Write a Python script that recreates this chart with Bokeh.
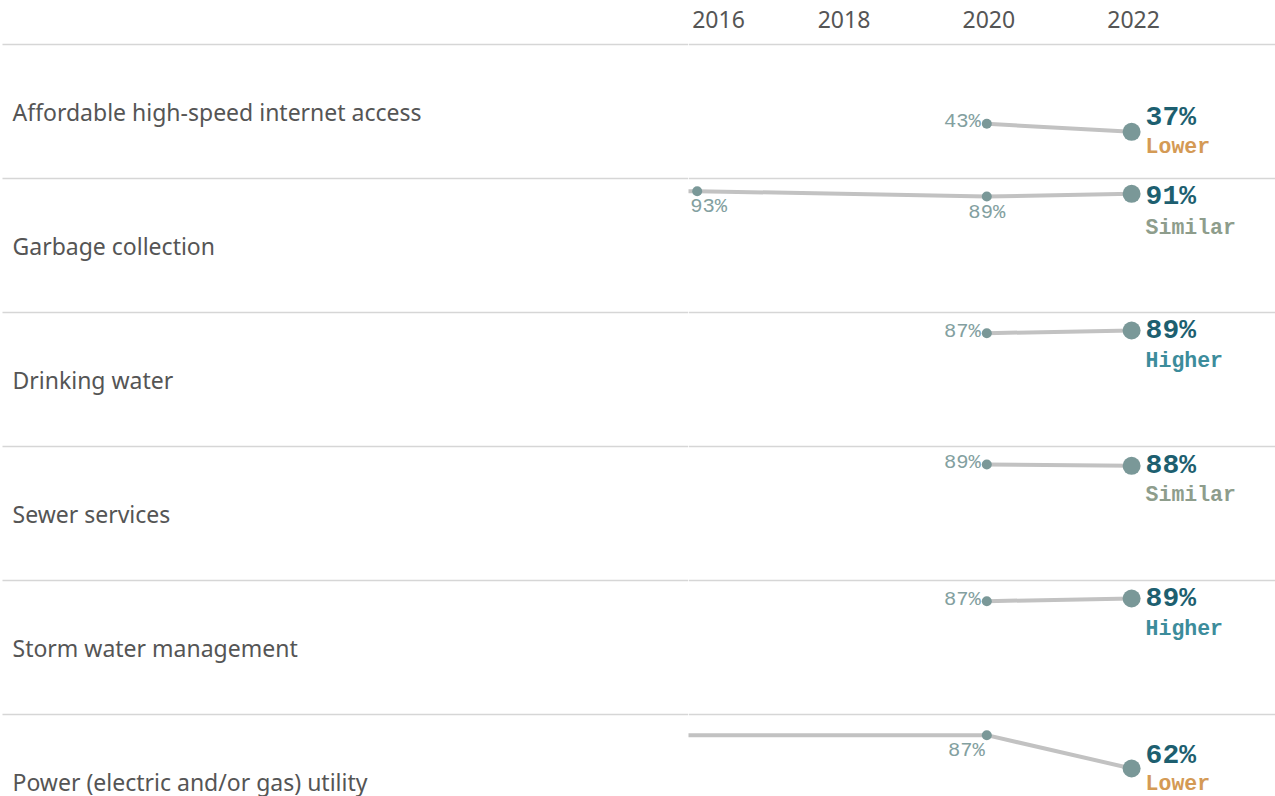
from bokeh.plotting import figure
from bokeh.layouts import row
from bokeh.models import Range1d, ColumnDataSource
from bokeh.core.properties import value
from bokeh.embed import file_html
from bokeh.resources import INLINE

# ---------------- data ----------------
categories = [
    "Affordable high-speed internet access",
    "Garbage collection",
    "Drinking water",
    "Sewer services",
    "Storm water management",
    "Power (electric and/or gas) utility",
]
year_ticks = [2016, 2018, 2020, 2022]

internet_years = [2020, 2022]
internet_values = [43, 37]
garbage_years = [2014, 2016, 2020, 2022]
garbage_values = [93, 93, 89, 91]
drinking_years = [2020, 2022]
drinking_values = [87, 89]
sewer_years = [2020, 2022]
sewer_values = [89, 88]
storm_years = [2020, 2022]
storm_values = [87, 89]
power_years = [2014, 2020, 2022]
power_values = [87, 87, 62]

status = ["Lower", "Similar", "Higher", "Similar", "Higher", "Lower"]

series_years = [internet_years, garbage_years, drinking_years,
                sewer_years, storm_years, power_years]
series_values = [internet_values, garbage_values, drinking_values,
                 sewer_values, storm_values, power_values]

# ---------------- styles ----------------
# label placement for each point (None = no label / off-chart, "end" = latest)
placements = [
    ["left", "end"],
    [None, "below_l", "below", "end"],
    ["left", "end"],
    ["left", "end"],
    ["left", "end"],
    [None, "below_r", "end"],
]
# vertical pixel offsets of (value label, status label) at the latest point
end_label_dy = [(-14, 15), (3, 34), (0, 30), (0, 29), (0, 30), (-13, 15)]

status_colors = {"Lower": "#D49A55", "Similar": "#8E9D8C", "Higher": "#3C8C9B"}
TEXT_GRAY = "#555555"
DIVIDER = "#D6D6D6"
LINE = "#C2C2C2"
DOT = "#7A9898"
SMALL_LBL = "#83A0A0"
BIG_LBL = "#1D5F70"
SANS = value("Noto Sans")
MONO = value("Liberation Mono")

W_LEFT, W_RIGHT, H = 688, 587, 796
ROW_TOP0, ROW_H = 44, 134          # canvas pixels
PX_PER_PT = 4.0 / 3.0
VAL_TOP = 102.5                    # value at the top of each row band
PX_PER_YEAR = 72.4
X_START = 2016 - 8.7 / PX_PER_YEAR


def base_fig(width, x_range):
    p = figure(width=width, height=H, x_range=x_range, y_range=Range1d(H, 0),
               output_backend="svg", toolbar_location=None, tools="")
    p.xaxis.visible = False
    p.yaxis.visible = False
    p.grid.visible = False
    p.outline_line_color = None
    p.min_border_left = p.min_border_right = 0
    p.min_border_top = p.min_border_bottom = 0
    p.background_fill_color = "white"
    p.border_fill_color = "white"
    return p


# ---------------- left: category labels ----------------
left = base_fig(W_LEFT, Range1d(0, W_LEFT))
row_tops = [ROW_TOP0 + ROW_H * i for i in range(len(categories))]
left.segment(x0=[2] * 6, x1=[W_LEFT] * 6, y0=row_tops, y1=row_tops,
             line_color=DIVIDER, line_width=1.5)
left.text(x=[12] * 6, y=[t + 67 for t in row_tops], text=categories,
          text_font=SANS, text_font_size="23px", text_color=TEXT_GRAY,
          text_align="left", text_baseline="middle")

# ---------------- right: slope lines ----------------
right = base_fig(W_RIGHT, Range1d(X_START, X_START + W_RIGHT / PX_PER_YEAR))
right.segment(x0=[X_START] * 6, x1=[X_START + 20] * 6, y0=row_tops, y1=row_tops,
              line_color=DIVIDER, line_width=1.5)

# header years
hdr = ColumnDataSource(dict(x=year_ticks, t=[str(y) for y in year_ticks],
                            off=[-5, 2, 2, 2],
                            align=["left", "center", "center", "center"]))
right.text(x="x", y=19, text="t", source=hdr, x_offset="off", text_align="align",
           text_font=SANS, text_font_size="23px", text_color=TEXT_GRAY,
           text_baseline="middle")

for i, (yrs, vals) in enumerate(zip(series_years, series_values)):
    top_val = VAL_TOP + (ROW_TOP0 + ROW_H * i) / PX_PER_PT
    name = f"row{i}"
    right.extra_y_ranges[name] = Range1d(top_val - H / PX_PER_PT, top_val)

    right.line(yrs, vals, y_range_name=name, line_color=LINE, line_width=4)

    pl = placements[i]
    shown = [(x, v, p) for x, v, p in zip(yrs, vals, pl) if p is not None]
    prior = [(x, v, p) for x, v, p in shown if p != "end"]
    last = [(x, v, p) for x, v, p in shown if p == "end"]

    if prior:
        right.scatter([x for x, _, _ in prior], [v for _, v, _ in prior],
                      y_range_name=name, size=10, color=DOT, line_color=None)
        for x, v, p in prior:
            if p == "left":
                align, dx, dy = "right", -6, -2
            elif p == "below_l":
                align, dx, dy = "left", -7, 15
            elif p == "below_r":
                align, dx, dy = "right", -2, 15.5
            else:
                align, dx, dy = "center", 0, 16
            right.text([x], [v], text=[f"{v}%"], y_range_name=name,
                       text_font=MONO, text_font_size="20.5px", text_color=SMALL_LBL,
                       text_align=align, text_baseline="middle",
                       x_offset=dx, y_offset=dy)

    for x, v, _ in last:
        right.scatter([x], [v], y_range_name=name, size=18, color=DOT, line_color=None)
        vdy, sdy = end_label_dy[i]
        right.text([x], [v], text=[f"{v}%"], y_range_name=name,
                   text_font=MONO, text_font_size="28px", text_font_style="bold",
                   text_color=BIG_LBL, text_align="left", text_baseline="middle",
                   x_offset=14, y_offset=vdy)
        right.text([x], [v], text=[status[i]], y_range_name=name,
                   text_font=MONO, text_font_size="21.5px", text_font_style="bold",
                   text_color=status_colors[status[i]], text_align="left",
                   text_baseline="middle", x_offset=14, y_offset=sdy)

layout = row(left, right)
open("out.html", "w").write(file_html(layout, INLINE))
